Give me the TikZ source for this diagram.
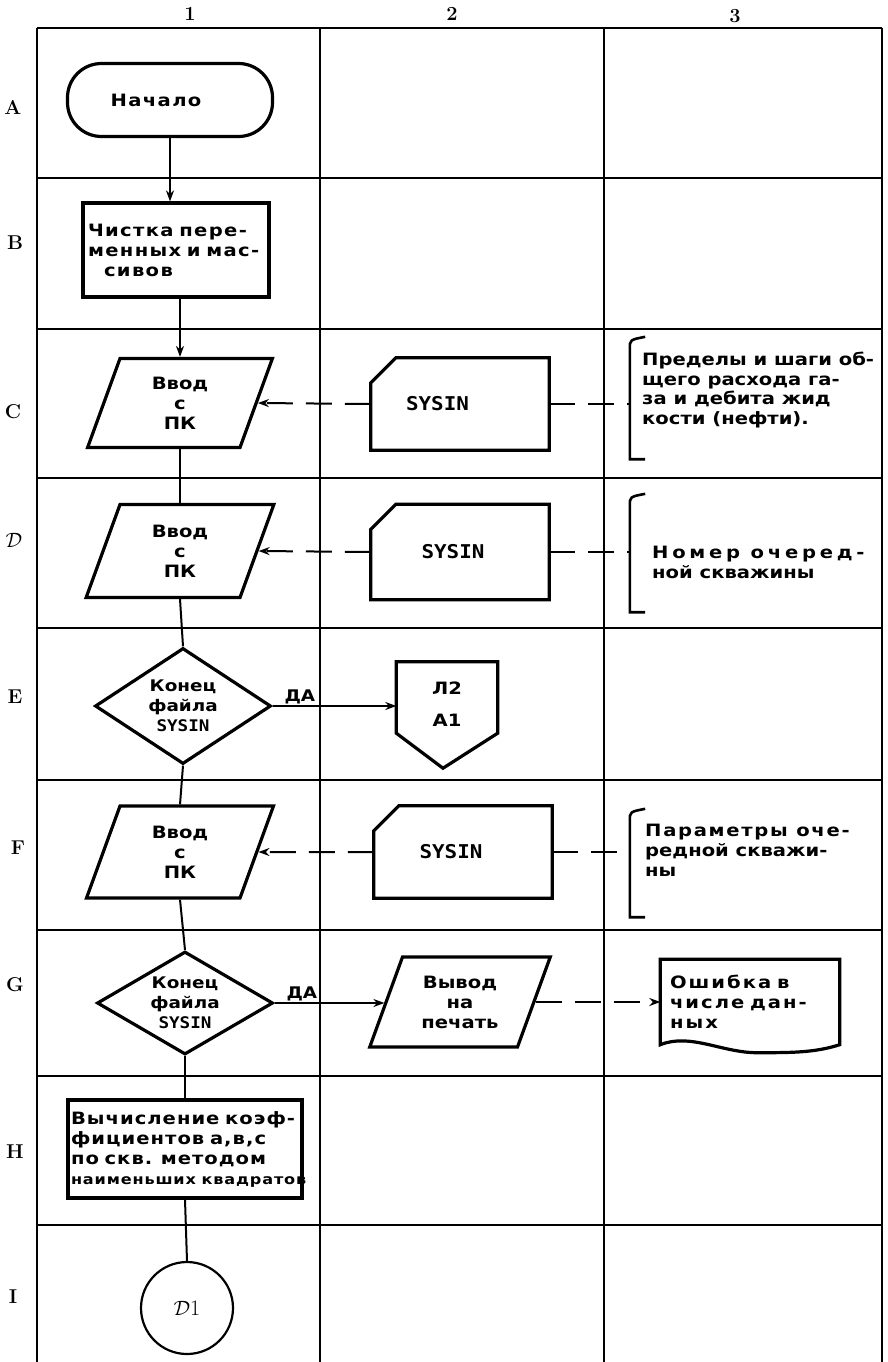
\documentclass[tikz,border=0pt]{standalone}
\usepackage{fontspec}
\usetikzlibrary{shapes.geometric,arrows.meta,calc}
\newfontfamily\stc[FakeStretch=1.15]{DejaVu Sans}
\newfontfamily\stm[FakeStretch=1.1]{DejaVu Sans Mono}
\newcommand{\sysin}{{\stm\bfseries\fontsize{19}{20}\selectfont SYSIN}}
\newcommand{\pbx}[3]{\parbox[c][#2][c]{#1}{\centering #3}}
\begin{document}
\begin{tikzpicture}[x=1pt,y=-1pt,
  grid/.style={line width=1.8pt},
  outl/.style={line width=3.2pt},
  txt/.style={font=\stc\bfseries\fontsize{17}{20}\selectfont},
  shp/.style={draw, outl, txt},
  term/.style={shp, rounded corners=34pt, minimum width=205pt, minimum height=73pt, inner sep=0pt},
  procbox/.style={shp, inner sep=0pt, align=left},
  para/.style={shp, trapezium, trapezium left angle=70, trapezium right angle=110, inner sep=0pt},
  decis/.style={shp, diamond, aspect=1.5, inner sep=0pt, align=center, font=\stc\bfseries\fontsize{16}{20}\selectfont},
  cardbox/.style={txt, inner sep=0pt, minimum width=178pt},
  brk/.style={inner sep=0pt, minimum width=15pt},
  note/.style={txt, align=left, anchor=west, inner sep=0pt},
  lab/.style={font=\stc\bfseries\fontsize{16}{16}\selectfont, anchor=south west, inner sep=1pt},
  flow/.style={line width=2pt},
  arr/.style={flow, -{Stealth[length=11pt,width=8pt]}},
  dsh/.style={flow, dash pattern=on 26pt off 13pt},
  darr/.style={dsh, -{Stealth[length=11pt,width=8pt]}},
  hand/.style={font=\bfseries\fontsize{20}{20}\selectfont},
]
\useasboundingbox (0,0) rectangle (887,1362);
% grid
\draw[grid] (37,28) -- (882,28);
\foreach \yy in {178,329,478,628,780,930,1076,1225} \draw[grid] (37,\yy) -- (882,\yy);
\foreach \xx in {37,320,604} \draw[grid] (\xx,28) -- (\xx,1362);
\draw[line width=1.2pt] (882,28) -- (882,1362);
% header and row labels
\node[hand] (h1) at (190,14) {1};
\node[hand] (h2) at (452,14) {2};
\node[hand] (h3) at (735,16) {3};
\node[hand] (rA) at (13,108) {A};
\node[hand] (rB) at (15,243) {B};
\node[hand] (rC) at (13,412) {C};
\node[font=\fontsize{22}{22}\selectfont] (rD) at (14,540) {$\mathcal{D}$};
\node[hand] (rE) at (15,697) {E};
\node[hand] (rF) at (18,848) {F};
\node[hand] (rG) at (15,985) {G};
\node[hand] (rH) at (15,1152) {H};
\node[hand] (rI) at (13,1297) {I};
% column 1
\node[term] (na) at (170,100) {\addfontfeature{LetterSpace=8}Начало\hspace*{28pt}};
\node[procbox, minimum width=186pt, minimum height=94pt, text width=176pt] (cb) at (176,250) {\addfontfeature{LetterSpace=8}Чистка пере-\\менных и мас-\\\hspace*{16pt}сивов};
\node[para] (pc) at (180,403) {\pbx{120pt}{89pt}{Ввод\\с\\ПК}};
\node[para] (pd) at (180,551) {\pbx{120pt}{93pt}{Ввод\\с\\ПК}};
\node[decis, minimum width=176pt, minimum height=116pt] (de) at (183,706) {Конец\\файла\\{\stm\bfseries SYSIN}};
\node[para] (pf) at (180,852) {\pbx{120pt}{92pt}{Ввод\\с\\ПК}};
\node[decis, minimum width=176pt, minimum height=103pt] (dg) at (185,1003) {Конец\\файла\\{\stm\bfseries SYSIN}};
\node[procbox, minimum width=234pt, minimum height=98pt, text width=228pt] (hb) at (185,1149) {\addfontfeature{LetterSpace=6}Вычисление коэф-\\фициентов а,в,с\\по скв. методом\\\makebox[0pt][l]{\fontsize{14}{19}\selectfont наименьших квадратов}};
\node[draw, circle, line width=2.2pt, minimum size=92pt, inner sep=0pt, font=\fontsize{22}{22}\selectfont] (ci) at (187,1308) {$\mathcal{D}$1};
% column 2
\node[cardbox, minimum height=92pt] (sc) at (460,404) {\sysin\hspace*{45pt}};
\node[cardbox, minimum height=95pt] (sd) at (460,552) {\sysin\hspace*{14pt}};
\node[txt, inner sep=0pt, minimum width=101pt, minimum height=84pt, align=center] (pe) at (447,704) {Л2\\[12pt]А1};
\node[cardbox, minimum height=92pt] (sf) at (463,852) {\sysin\hspace*{24pt}};
\node[para] (vg) at (460,1002) {\pbx{115pt}{90pt}{Вывод\\на\\печать}};
% column 3
\node[brk, minimum height=119pt] (bc) at (637.5,399.5) {};
\node[brk, minimum height=115pt] (bd) at (637.5,554.5) {};
\node[brk, minimum height=105pt] (bf) at (637.5,864.5) {};
\node[note, font=\stc\bfseries\fontsize{17}{19.5}\selectfont] (tc) at (642,390) {Пределы и шаги об-\\щего расхода га-\\за и дебита жид\\кости (нефти).};
\node[note] (td) at (652,562) {\addfontfeature{LetterSpace=22}Номер очеред-\\ной скважины};
\node[note] (tf) at (645,850) {\addfontfeature{LetterSpace=10}Параметры оче-\\редной скважи-\\ны};
\node[txt, inner sep=0pt, minimum width=179pt, minimum height=85pt, text width=160pt, align=left] (dc) at (750,1002) {\addfontfeature{LetterSpace=12}Ошибка в\\числе дан-\\ных};
% outlines of hand-made shapes
\foreach \nm in {sc,sd,sf} \draw[outl] ($(\nm.north west)+(0,25)$) -- ($(\nm.north west)+(25,0)$) -- (\nm.north east) -- (\nm.south east) -- (\nm.south west) -- cycle;
\draw[outl] (pe.north west) -- (pe.north east) -- ($(pe.south east)+(0,-13)$) -- ($(pe.south)+(-4,22)$) -- ($(pe.south west)+(0,-13)$) -- cycle;
\draw[outl] (dc.south east) -- (dc.north east) -- (dc.north west) -- (dc.south west) .. controls +(30,-12) and +(-35,0) .. ($(dc.south)+(7,8)$) .. controls +(35,0) and +(-25,8) .. (dc.south east) -- cycle;
\foreach \bb in {bc,bd,bf} \draw[outl, line width=2.6pt] (\bb.south east) -- (\bb.south west) -- ($(\bb.north west)+(0,9)$) .. controls (\bb.north west) .. ($(\bb.north east)+(0,-3)$);
% flow lines
\draw[arr] (na.south) -- (na.south |- cb.north);
\draw[arr] (pc.north |- cb.south) -- (pc.north);
\draw[flow] (pc.south) -- (pd.north);
\draw[flow] (pd.south) -- (de.north);
\draw[flow] (de.south) -- (pf.north);
\draw[flow] (pf.south) -- (dg.north);
\draw[flow] (dg.south) -- (hb.north);
\draw[flow] (hb.south) -- (ci.north);
\draw[arr] (de.east) -- (de.east -| pe.west) node[pos=0, lab, xshift=10pt] {ДА};
\draw[arr] (dg.east) -- (dg.east -| vg.west) node[pos=0, lab, xshift=10pt] {ДА};
% data lines
\draw[darr] (sc.west) -- (pc.east);
\draw[darr] (sd.west) -- (pd.east);
\draw[darr] (sf.west) -- (pf.east);
\draw[dsh] (sc.east) -- (sc.east -| bc.west);
\draw[dsh] (sd.east) -- (sd.east -| bd.west);
\draw[dsh] (sf.east) -- (sf.east -| bf.west);
\draw[darr] (vg.east) -- (vg.east -| dc.west);
\end{tikzpicture}
\end{document}
